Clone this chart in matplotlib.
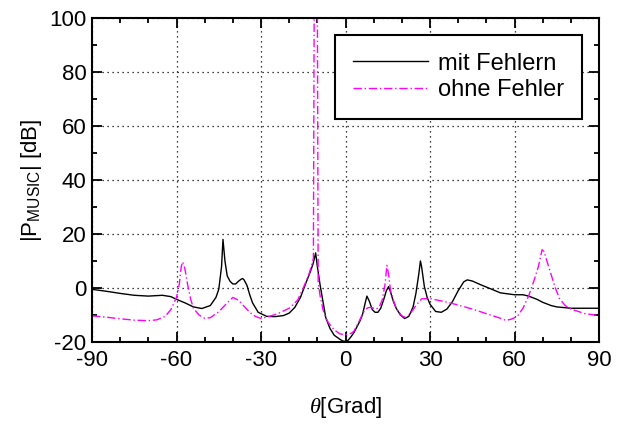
import numpy as np
import matplotlib
matplotlib.use("Agg")
from matplotlib import pyplot as plt

# MUSIC spectrum
theta_mit = [-90, -85, -80, -75, -70, -65, -62, -60, -57, -54, -51, -48, -46, -45,
             -44.7, -44, -43.5, -42.8, -42, -41, -40, -39, -38, -37, -36.5, -36, -35,
             -34, -33, -31, -28, -25, -22, -20, -18, -16, -14, -12.5, -11.5, -10.6,
             -10, -9, -8, -7, -5.5, -4, -2, -1, 0, 1, 2, 3, 4, 5, 6, 7, 7.6, 8.5, 9.5,
             10.5, 11.5, 12.5, 13.5, 14.5, 15.3, 16, 17, 18, 19.5, 21, 22.5, 24, 25,
             26, 26.6, 27, 28, 29, 30, 32, 34, 36, 38, 40, 42, 43.2, 45, 48, 52, 55,
             60, 63, 65, 68, 70, 73, 75, 80, 85, 90]
p_mit = [-0.5, -1.2, -2.0, -2.7, -3.0, -2.7, -3.2, -4.2, -5.5, -7.0, -7.6, -6.5, -3.5, -0.5,
         2, 8, 18, 10, 4.5, 2.5, 1.5, 1.5, 2.5, 3.3, 3.5, 3.0, 1,
         -2.5, -5.5, -9, -10.5, -10.6, -10.2, -9.3, -7.2, -3.5, 2, 6, 9, 13,
         8, 1, -5, -11, -15, -17.5, -19, -19.6, -19.8, -19.3, -18, -16.5, -14.5, -12.5, -10, -5.5, -3, -5, -8,
         -9, -9, -7.5, -4.5, -1, 0.5, -1.5, -5, -7.5, -10, -11.3, -10.5, -7, -2,
         5, 10, 8, 0.5, -3.5, -6, -8.7, -9, -7.8, -5, -1, 2.3, 3, 2.6, 1.2, -0.5, -1.8,
         -2.5, -2.5, -3, -4.2, -5.3, -6.5, -7.0, -7.5, -7.5, -7.5]

theta_ohne = [-90, -85, -80, -75, -70, -67, -64, -62, -60, -59, -58.3, -57.8, -57, -56, -55,
              -54, -52, -50, -48, -45, -42, -40, -38, -36, -34, -32, -30, -27, -24, -20,
              -17, -15, -13, -12, -11.4, -11.1, -10, -9.7, -9, -8, -7, -6, -4, -2, 0, 2,
              3, 4, 5, 6, 7, 8, 9, 10, 11, 12, 13, 14, 14.7, 15.3, 16, 17, 18, 20, 21.5,
              23, 25, 27, 30, 35, 40, 45, 50, 55, 57, 59, 61, 63, 65, 67, 68.5, 69.8,
              70.5, 71.5, 73, 74.5, 76, 78, 80, 85, 90]
p_ohne = [-10.3, -10.8, -11.4, -11.9, -12.1, -11.8, -10.5, -8, -3.5, 1.5, 8, 9.7, 7, 1, -4,
          -7.5, -10, -11.2, -11, -8.8, -5.5, -3.5, -4.5, -6.8, -9, -10.5, -11.3, -10.5, -9.5, -7.5,
          -4.5, 0, 5, 8.5, 11, 110, 110, 2, -3, -8, -11, -13, -15.5, -17, -17.3, -16.8,
          -16, -14, -12, -9.7, -8, -7.3, -7.2, -7.5, -7.8, -7, -4.5, 1, 8.4, 5, -1, -4.5, -7.5, -10.3, -11,
          -9.5, -6.5, -4, -3.9, -5, -6.3, -7.8, -9.5, -11.2, -12, -11.5, -10.5, -7.5, -3, 3, 8, 14.2,
          13.5, 10, 5, 0, -4, -6.5, -7.8, -9.5, -10.2]

xticks = [-90, -60, -30, 0, 30, 60, 90]
yticks = [-20, 0, 20, 40, 60, 80, 100]

plt.rcParams['font.family'] = ['Liberation Sans', 'DejaVu Sans']
plt.rcParams['axes.unicode_minus'] = False
plt.rcParams['mathtext.fontset'] = 'custom'
plt.rcParams['mathtext.rm'] = 'Liberation Sans'
plt.rcParams['mathtext.it'] = 'Liberation Serif:italic'

fig = plt.figure(figsize=(6.21, 4.25), dpi=100)
ax = fig.add_axes([92 / 621, 1 - 342 / 425, 507 / 621, 324 / 425])

ax.plot(theta_mit, p_mit, color='black', lw=1.0, label='mit Fehlern')
ax.plot(theta_ohne, p_ohne, color='#ff00ff', lw=1.0, linestyle=(0, (6, 2, 1, 2)),
        label='ohne Fehler')

ax.set_xlim(-90, 90)
ax.set_ylim(-20, 100)
ax.set_xticks(xticks)
ax.set_yticks(yticks)
ax.set_xticks(np.arange(-80, 90, 10), minor=True)
ax.set_yticks(np.arange(-10, 100, 10), minor=True)
ax.grid(True, which='major', color='black', linestyle=(0, (1, 3)), lw=0.9)

ax.tick_params(which='both', direction='in', top=True, right=True, width=1.3,
               labelsize=16)
ax.tick_params(which='major', length=7, pad=4)
ax.tick_params(axis='x', which='major', pad=6)
ax.tick_params(which='minor', length=3.6)
for s in ax.spines.values():
    s.set_linewidth(1.5)

ax.set_xlabel(r'$\theta$[Grad]', fontsize=16, labelpad=17)
ax.set_ylabel(r'|P$_{\mathrm{MUSIC}}$| [dB]', fontsize=16, labelpad=4)

leg = ax.legend(loc='upper right', bbox_to_anchor=(0.966, 0.948), borderaxespad=0,
                fontsize=17, fancybox=False, edgecolor='black', framealpha=1,
                handlelength=3.2, handletextpad=0.4, labelspacing=0.2, borderpad=0.75)
leg.get_frame().set_linewidth(1.5)

fig.savefig('out.png', dpi=100)
